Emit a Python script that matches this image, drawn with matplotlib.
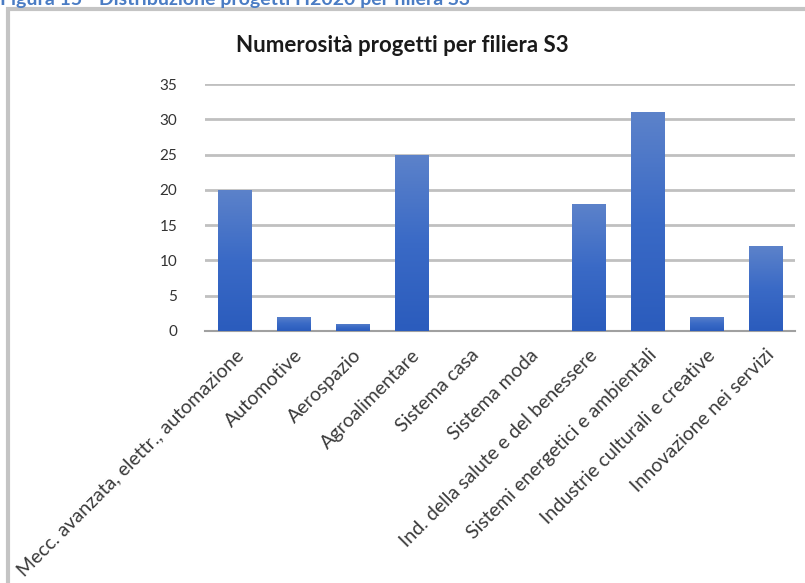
import numpy as np
import matplotlib
matplotlib.use('Agg')
import matplotlib.pyplot as plt
from matplotlib.colors import LinearSegmentedColormap
from matplotlib.patches import Rectangle

# Data
categories = ['Mecc. avanzata, elettr., automazione', 'Automotive', 'Aerospazio',
              'Agroalimentare', 'Sistema casa', 'Sistema moda',
              'Ind. della salute e del benessere', 'Sistemi energetici e ambientali',
              'Industrie culturali e creative', 'Innovazione nei servizi']
projects = [20, 2, 1, 25, 0, 0, 18, 31, 2, 12]
y_ticks = [0, 5, 10, 15, 20, 25, 30, 35]

plt.rcParams['font.family'] = ['Lato', 'DejaVu Sans']

fig = plt.figure(figsize=(8.05, 5.83), dpi=100)

# outer chart frame (cut by the page edge on right / bottom)
fig.patches.append(Rectangle((8 / 805, -0.05), 1.0, 1 - 9 / 583 + 0.05,
                             transform=fig.transFigure, fill=False,
                             edgecolor='#c4c4c4', linewidth=3, zorder=0))

# figure caption, cut at the top of the page
fig.text(0.0, 1 - 5 / 583, 'Figura 15 - Distribuzione progetti H2020 per filiera S3',
         color='#4a7cc4', fontsize=14, fontweight='bold', va='baseline', ha='left')

ax = fig.add_axes([205 / 805, 252 / 583, 590 / 805, 247 / 583])

x = np.arange(len(categories))
bars = ax.bar(x, projects, width=0.56, color='none', edgecolor='none', zorder=3)

grad = LinearSegmentedColormap.from_list('g', ['#2b5cbd', '#3a6ac6', '#5c82ca'])
img = np.linspace(0, 1, 100).reshape(-1, 1)
for b in bars:
    h = b.get_height()
    if h <= 0:
        continue
    im = ax.imshow(img, cmap=grad, aspect='auto', origin='lower',
                   extent=[b.get_x(), b.get_x() + b.get_width(), 0, h], zorder=3)
    im.set_clip_path(b)

ax.set_xlim(-0.5, len(categories) - 0.5)
ax.set_ylim(0, 35)
ax.set_yticks(y_ticks)
ax.yaxis.grid(True, color='#c0c0c0', linewidth=2)
ax.set_axisbelow(True)
for s in ['top', 'right', 'left']:
    ax.spines[s].set_visible(False)
ax.spines['bottom'].set_color('#a0a0a0')
ax.spines['bottom'].set_linewidth(1.5)
ax.tick_params(axis='both', length=0, colors='#333333')
ax.tick_params(axis='y', labelsize=11, pad=20)

ax.set_xticks(x)
ax.set_xticklabels(categories, rotation=45, ha='right', va='top',
                   rotation_mode='anchor', fontsize=14, color='#3a3a3a')
ax.tick_params(axis='x', pad=11)

fig.text(402 / 805, 1 - 45 / 583, 'Numerosità progetti per filiera S3',
         ha='center', va='center', fontsize=16, fontweight='bold', color='#1a1a1a')

fig.savefig('out.png', dpi=100)
